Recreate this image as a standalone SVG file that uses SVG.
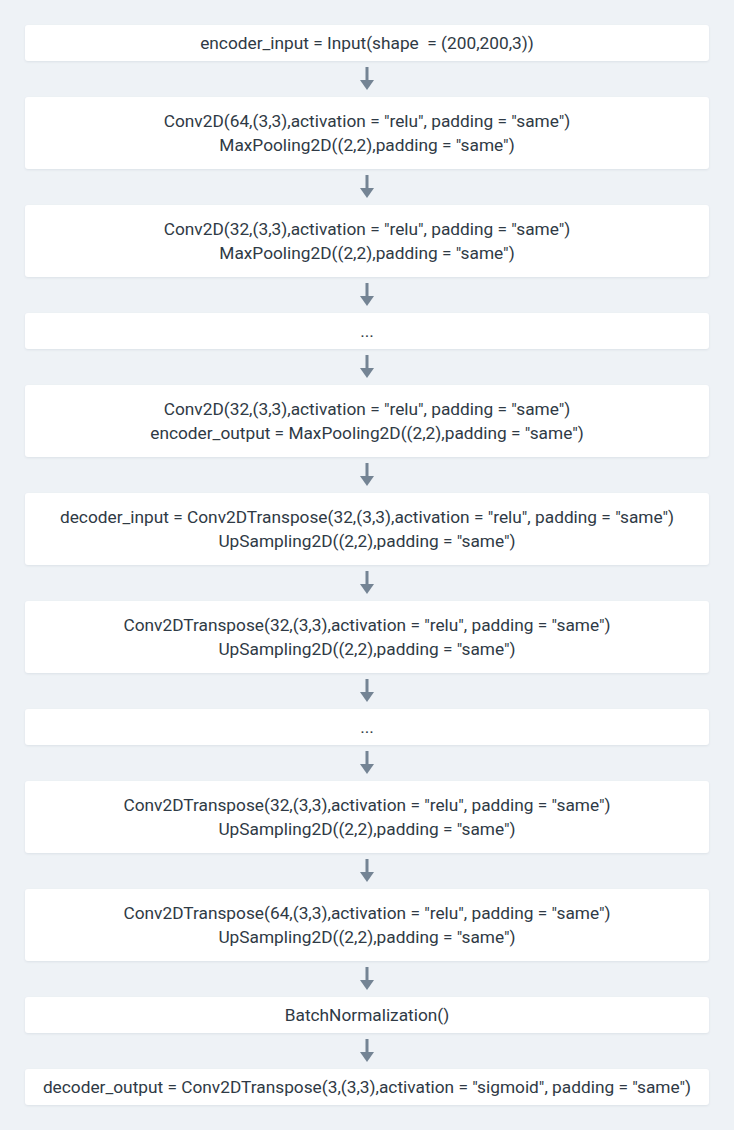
<svg xmlns="http://www.w3.org/2000/svg" width="734" height="1130" viewBox="0 0 734 1130">
<style>
.bg{fill:#eef2f6}
.box{fill:#ffffff;filter:url(#sh)}
.t{font-family:Roboto,"Liberation Sans",sans-serif;font-size:17.3px;fill:#2f3a45;text-anchor:middle;white-space:pre}
.c line{stroke:#748494;stroke-width:3}
.c path{fill:#748494}
</style>
<defs>
<filter id="sh" x="-5%" y="-20%" width="110%" height="140%">
<feDropShadow dx="0" dy="1" stdDeviation="1" flood-color="#c8d0d8" flood-opacity="0.5"/>
</filter>
</defs>
<rect class="bg" x="0" y="0" width="734" height="1130"/>
<g id="n1"><rect class="box" x="25" y="25" width="684" height="36" rx="3"/><text class="t" x="367" y="49" xml:space="preserve">encoder_input = Input(shape  = (200,200,3))</text></g>
<g id="n2"><rect class="box" x="25" y="97" width="684" height="72" rx="3"/><text class="t" x="367" y="127">Conv2D(64,(3,3),activation = "relu", padding = "same")</text><text class="t" x="367" y="151">MaxPooling2D((2,2),padding = "same")</text></g>
<g id="n3"><rect class="box" x="25" y="205" width="684" height="72" rx="3"/><text class="t" x="367" y="235">Conv2D(32,(3,3),activation = "relu", padding = "same")</text><text class="t" x="367" y="259">MaxPooling2D((2,2),padding = "same")</text></g>
<g id="n4"><rect class="box" x="25" y="313" width="684" height="36" rx="3"/><text class="t" x="367" y="337">...</text></g>
<g id="n5"><rect class="box" x="25" y="385" width="684" height="72" rx="3"/><text class="t" x="367" y="415">Conv2D(32,(3,3),activation = "relu", padding = "same")</text><text class="t" x="367" y="439">encoder_output = MaxPooling2D((2,2),padding = "same")</text></g>
<g id="n6"><rect class="box" x="25" y="493" width="684" height="72" rx="3"/><text class="t" x="367" y="523">decoder_input = Conv2DTranspose(32,(3,3),activation = "relu", padding = "same")</text><text class="t" x="367" y="547">UpSampling2D((2,2),padding = "same")</text></g>
<g id="n7"><rect class="box" x="25" y="601" width="684" height="72" rx="3"/><text class="t" x="367" y="631">Conv2DTranspose(32,(3,3),activation = "relu", padding = "same")</text><text class="t" x="367" y="655">UpSampling2D((2,2),padding = "same")</text></g>
<g id="n8"><rect class="box" x="25" y="709" width="684" height="36" rx="3"/><text class="t" x="367" y="733">...</text></g>
<g id="n9"><rect class="box" x="25" y="781" width="684" height="72" rx="3"/><text class="t" x="367" y="811">Conv2DTranspose(32,(3,3),activation = "relu", padding = "same")</text><text class="t" x="367" y="835">UpSampling2D((2,2),padding = "same")</text></g>
<g id="n10"><rect class="box" x="25" y="889" width="684" height="72" rx="3"/><text class="t" x="367" y="919">Conv2DTranspose(64,(3,3),activation = "relu", padding = "same")</text><text class="t" x="367" y="943">UpSampling2D((2,2),padding = "same")</text></g>
<g id="n11"><rect class="box" x="25" y="997" width="684" height="36" rx="3"/><text class="t" x="367" y="1021">BatchNormalization()</text></g>
<g id="n12"><rect class="box" x="25" y="1069" width="684" height="36" rx="3"/><text class="t" x="367" y="1093">decoder_output = Conv2DTranspose(3,(3,3),activation = "sigmoid", padding = "same")</text></g>
<g id="connectors" class="c">
<line x1="367" y1="67" x2="367" y2="82"/><path d="M360,80 L374,80 L367,90 Z"/>
<line x1="367" y1="175" x2="367" y2="190"/><path d="M360,188 L374,188 L367,198 Z"/>
<line x1="367" y1="283" x2="367" y2="298"/><path d="M360,296 L374,296 L367,306 Z"/>
<line x1="367" y1="355" x2="367" y2="370"/><path d="M360,368 L374,368 L367,378 Z"/>
<line x1="367" y1="463" x2="367" y2="478"/><path d="M360,476 L374,476 L367,486 Z"/>
<line x1="367" y1="571" x2="367" y2="586"/><path d="M360,584 L374,584 L367,594 Z"/>
<line x1="367" y1="679" x2="367" y2="694"/><path d="M360,692 L374,692 L367,702 Z"/>
<line x1="367" y1="751" x2="367" y2="766"/><path d="M360,764 L374,764 L367,774 Z"/>
<line x1="367" y1="859" x2="367" y2="874"/><path d="M360,872 L374,872 L367,882 Z"/>
<line x1="367" y1="967" x2="367" y2="982"/><path d="M360,980 L374,980 L367,990 Z"/>
<line x1="367" y1="1039" x2="367" y2="1054"/><path d="M360,1052 L374,1052 L367,1062 Z"/>
</g>
</svg>
